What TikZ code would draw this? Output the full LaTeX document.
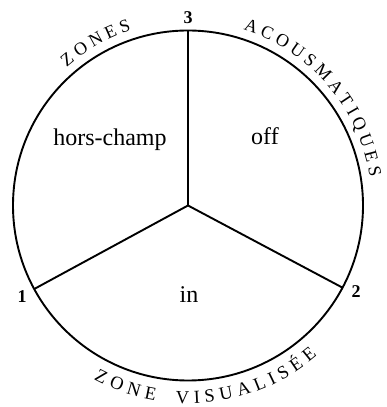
\documentclass[tikz,border=0pt]{standalone}
\usepackage{fontspec}
\setmainfont{Liberation Serif}
\begin{document}
\begin{tikzpicture}[x=1pt,y=1pt,
  rim/.style={line width=1.9pt},
  spoke/.style={line width=1.9pt},
  zonelabel/.style={font=\fontsize{24}{24}\selectfont, anchor=base, inner sep=0},
  numlabel/.style={font=\fontsize{18}{18}\selectfont\bfseries, anchor=base, inner sep=0},
  topletter/.style={font=\fontsize{18}{18}\selectfont, anchor=base, inner sep=0},
  botletter/.style={font=\fontsize{18.5}{18.5}\selectfont, anchor=base, inner sep=0}
]
\useasboundingbox (0,0) rectangle (386,407);
\coordinate (C) at (188,201.5);
\draw[rim] (C) circle[radius=175];
\coordinate (p3) at ([shift={(C)}]90:175);
\coordinate (p1) at ([shift={(C)}]208.5:175);
\coordinate (p2) at ([shift={(C)}]-28:175);
\draw[spoke] (C) -- (p3);
\draw[spoke] (C) -- (p1);
\draw[spoke] (C) -- (p2);

\node[numlabel] (n3) at (188,383) {3};
\node[numlabel] (n1) at (22,104) {1};
\node[numlabel] (n2) at (356,109) {2};

\node[zonelabel] (hc) at (110,261) {hors-champ};
\node[zonelabel] (off) at (265,262) {off};
\node[zonelabel] (in) at (189,104) {in};

% ZONES (upper left, reading clockwise)
\foreach \ch/\a [count=\i] in {Z/129.5, O/124.46, N/119.12, E/114.08, S/109.5}
  \node[topletter, rotate=\a-90] (zs\i) at ([shift={(C)}]\a:184) {\ch};

% ACOUSMATIQUES (upper right, reading clockwise)
\foreach \ch/\a [count=\i] in {A/70.5, C/65.31, O/60.12, U/54.78, S/49.89, M/44.55, A/38.76, T/33.72, I/29.74, Q/25.45, U/20.11, E/15.07, S/10.48}
  \node[topletter, rotate=\a-90] (ac\i) at ([shift={(C)}]\a:184) {\ch};

% ZONE VISUALISEE (bottom, reading left to right)
\foreach \ch/\a [count=\i] in {Z/243.2, O/248.28, N/253.68, E/258.76, V/268.37, I/272.66, S/276.47, U/281.40, A/286.80, L/291.88, I/295.85, S/299.66, É/304.27, E/309.04}
  \node[botletter, rotate=\a+90] (zv\i) at ([shift={(C)}]\a:198) {\ch};
\end{tikzpicture}
\end{document}
